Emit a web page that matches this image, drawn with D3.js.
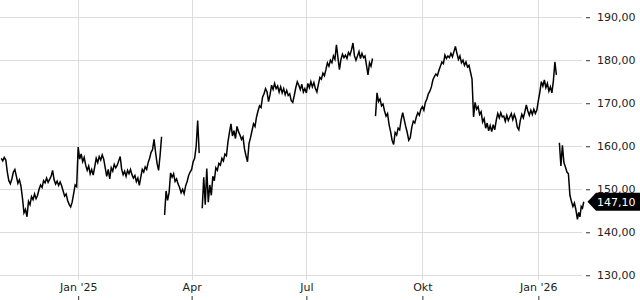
<!DOCTYPE html>
<html>
<head>
<meta charset="utf-8">
<script src="https://cdn.jsdelivr.net/npm/d3@7"></script>
<style>
    body { margin: 0; background: #fff; }
    svg { display: block; font-family: "DejaVu Sans", sans-serif; }
</style>
</head>
<body>
<svg id="chart" width="640" height="300"></svg>
<script>
// price readings, spread evenly over each month
var months = ["2024-11", "2024-12", "2025-01", "2025-02", "2025-03", "2025-04", "2025-05", "2025-06",
    "2025-07", "2025-08", "2025-09", "2025-10", "2025-11", "2025-12", "2026-01", "2026-02"];

var nov24 = [157.2, 156.6, 157.4, 156.8, 154.0, 152.0, 151.3, 152.4, 154.0, 154.6, 153.0, 151.4, 152.2,
    150.8, 148.0, 144.5, 145.3, 143.6, 147.2, 146.4, 148.3, 147.6, 148.9, 147.8, 148.6];
var dec24 = [150.0, 151.0, 150.4, 152.0, 151.5, 152.6, 151.6, 152.3, 153.0, 154.4, 152.2, 151.2, 151.9,
    150.9, 151.7, 150.8, 149.6, 148.4, 148.9, 147.4, 146.5, 145.9, 147.0, 149.0, 151.0, 150.6];
var jan25 = [159.8, 157.0, 158.2, 156.4, 157.4, 155.6, 154.4, 155.4, 153.6, 154.6, 153.3, 155.2, 157.2,
    156.2, 157.6, 156.8, 158.0, 157.0, 155.0, 153.0, 154.6, 152.4, 155.0, 154.2, 155.8, 155.0];
var feb25 = [155.6, 156.6, 157.6, 154.6, 153.4, 154.2, 153.0, 154.4, 153.6, 154.6, 153.4, 152.6, 153.2,
    151.8, 152.6, 150.9, 152.8, 154.6, 154.0, 155.2, 154.6, 156.2, 157.2, 158.6];
var mar25 = [159.2, 161.6, 158.6, 156.0, 154.4, 157.8, 162.2, null, 144.0, 149.6, 147.4, 149.2, 153.8,
    152.8, 153.6, 151.8, 152.4, 151.2, 150.4, 149.2, 150.0, 149.0, 150.8, 151.8, 153.2, 154.0];
var apr25 = [154.6, 156.4, 157.2, 160.0, 166.0, 158.4, null, 145.6, 152.8, 146.4, 154.8, 147.0, 151.0,
    148.6, 153.0, 152.0, 155.0, 154.4, 156.0, 155.6, 157.2, 156.6, 158.2, 157.8, 161.0];
var may25 = [163.2, 165.2, 162.4, 163.6, 161.8, 164.6, 163.4, 162.6, 161.6, 162.2, 159.4, 157.8, 156.4,
    160.6, 162.0, 163.6, 165.2, 164.6, 166.8, 168.2, 169.4, 169.0, 171.4, 172.2, 173.4, 172.6];
var jun25 = [170.4, 172.0, 174.2, 173.2, 174.6, 173.4, 174.0, 172.6, 173.8, 172.4, 173.4, 172.0, 173.0,
    171.8, 172.2, 170.6, 170.2, 171.8, 173.6, 175.0, 174.2, 173.2, 174.4, 172.6, 173.4];
var jul25 = [172.4, 174.6, 173.6, 175.0, 173.8, 174.8, 173.4, 172.6, 174.4, 176.0, 175.6, 177.0, 176.4,
    177.8, 179.4, 178.6, 180.0, 179.4, 181.0, 180.2, 183.6, 180.6, 177.8, 180.2, 181.4, 180.6];
var aug25 = [181.2, 180.4, 181.8, 181.2, 182.4, 184.0, 181.0, 180.0, 181.0, 182.0, 180.4, 181.6, 180.6,
    181.0, 178.8, 176.6, 179.4, 178.6, 180.4, null, 167.0, 172.4, 170.4, 171.0, 169.4, 169.8];
var sep25 = [168.2, 167.0, 167.6, 165.0, 163.4, 161.4, 160.4, 163.2, 162.6, 164.2, 163.8, 166.2, 167.8,
    166.2, 164.6, 163.2, 161.4, 162.0, 164.4, 165.8, 165.4, 166.8, 167.8, 167.2, 168.6];
var oct25 = [169.2, 168.4, 170.2, 171.0, 172.2, 172.8, 173.8, 175.4, 176.2, 176.8, 176.4, 177.6, 178.6,
    179.6, 179.2, 181.2, 180.4, 181.0, 180.6, 181.6, 180.8, 182.0, 183.2, 181.6, 180.2, 181.0];
var nov25 = [179.4, 180.0, 178.8, 179.6, 178.4, 178.8, 177.2, 175.6, 166.8, 170.2, 168.6, 169.2, 167.4,
    168.0, 165.6, 166.4, 164.2, 165.4, 163.6, 164.8, 163.4, 165.0, 163.8, 166.0, 167.6];
var dec25 = [166.6, 167.8, 166.8, 167.0, 165.8, 167.2, 166.0, 166.8, 167.6, 166.2, 167.4, 166.4, 164.4,
    163.8, 166.0, 167.4, 166.6, 168.0, 169.6, 168.2, 167.2, 168.4, 167.4, 168.6, 167.6, 168.4];
var jan26 = [170.6, 172.6, 175.0, 174.0, 175.4, 173.6, 174.6, 172.8, 173.8, 172.4, 175.2, 179.6, 176.6,
    null, 160.8, 155.4, 160.2, 156.2, 155.2, 154.0, 153.6, 148.6, 147.2, 146.0, 146.8, 145.2];
var feb26 = [143.0, 144.6, 143.6, 146.0, 145.6, 147.1];

var series = [nov24, dec24, jan25, feb25, mar25, apr25, may25, jun25,
    jul25, aug25, sep25, oct25, nov25, dec25, jan26, feb26];

var xTickDates = ["2025-01-01", "2025-04-01", "2025-07-01", "2025-10-01", "2026-01-01"];
var xTickLabels = ["Jan '25", "Apr", "Jul", "Okt", "Jan '26"];
var yTicks = [130, 140, 150, 160, 170, 180, 190];

var startDate = "2024-10-31";
var endDate = "2026-02-07";

var parseDay = d3.timeParse("%Y-%m-%d");
var parseMonth = d3.timeParse("%Y-%m");
var de = d3.formatLocale({ decimal: ",", thousands: ".", grouping: [3], currency: ["", " €"] });
var fmt = de.format(".2f");

var points = [];
months.forEach(function (m, k) {
    var from = parseMonth(m);
    var to = k < months.length - 1 ? parseMonth(months[k + 1]) : parseDay(endDate);
    var vals = series[k];
    vals.forEach(function (v, i) {
        points.push({ date: new Date(+from + (to - from) * i / vals.length), value: v });
    });
});

var svg = d3.select('#chart');

var x = d3.scaleTime()
    .domain([parseDay(startDate), parseDay(endDate)])
    .range([0, 585]);

var y = d3.scaleLinear()
    .domain([126, 194])
    .range([292.5, 0]);

// grid
svg.append('g')
    .selectAll('line')
    .data(yTicks)
    .enter()
    .append('line')
    .attr('x1', 0)
    .attr('x2', 582)
    .attr('y1', function (d) { return Math.round(y(d)) + 0.5; })
    .attr('y2', function (d) { return Math.round(y(d)) + 0.5; })
    .style('stroke', '#dcdcdc');

svg.append('g')
    .selectAll('line')
    .data(xTickDates)
    .enter()
    .append('line')
    .attr('x1', function (d) { return Math.round(x(parseDay(d))) + 0.5; })
    .attr('x2', function (d) { return Math.round(x(parseDay(d))) + 0.5; })
    .attr('y1', 0)
    .attr('y2', 280)
    .style('stroke', '#dcdcdc');

// axes
var yAxis = svg.append('g')
    .attr('transform', 'translate(586,0)')
    .call(d3.axisRight(y)
        .tickValues(yTicks)
        .tickSize(4)
        .tickPadding(7)
        .tickFormat(fmt));

var xAxis = svg.append('g')
    .attr('transform', 'translate(0,300)')
    .call(d3.axisTop(x)
        .tickValues(xTickDates.map(parseDay))
        .tickSize(4)
        .tickPadding(5)
        .tickFormat(function (d, i) { return xTickLabels[i]; }));

[yAxis, xAxis].forEach(function (a) {
    a.select('.domain').remove();
    a.selectAll('line').style('stroke', '#333');
    a.selectAll('text')
        .style('font-family', '"DejaVu Sans", sans-serif')
        .style('font-size', '11px')
        .style('fill', '#222');
});

// price line
var line = d3.line()
    .defined(function (d) { return d.value != null; })
    .x(function (d) { return x(d.date); })
    .y(function (d) { return y(d.value); });

svg.append('path')
    .datum(points)
    .attr('d', line)
    .style('fill', 'none')
    .style('stroke', '#000')
    .style('stroke-width', 1.5)
    .style('stroke-linejoin', 'miter');

// last price tag
var last = feb26[feb26.length - 1];
var ty = y(last);
svg.append('path')
    .attr('d', 'M587.5,' + ty + 'L596,' + (ty - 9) + 'H640V' + (ty + 9) + 'H596Z')
    .style('fill', '#000');

svg.append('text')
    .attr('x', 597)
    .attr('y', ty)
    .attr('dy', '0.36em')
    .style('font-size', '11px')
    .style('fill', '#fff')
    .text(fmt(last));
</script>
</body>
</html>
